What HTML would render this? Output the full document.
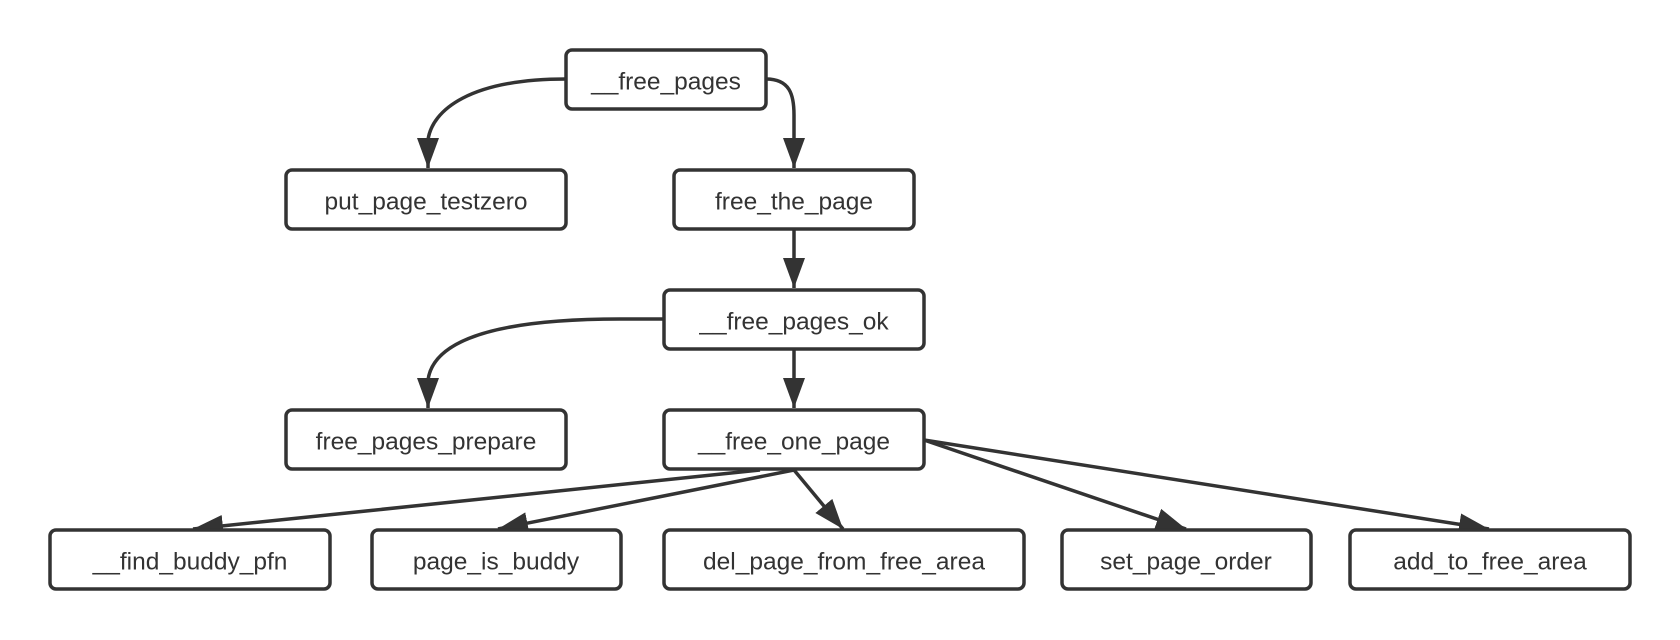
<!DOCTYPE html>
<html><head><meta charset="utf-8"><style>
html,body{margin:0;padding:0;background:#fff;}
svg{display:block;}
text{font-family:"Liberation Sans","Noto Sans CJK SC",sans-serif;font-size:24.5px;fill:#333;text-anchor:middle;dominant-baseline:central;}
rect{fill:#fff;stroke:#333;stroke-width:3.5;}
path.e{fill:none;stroke:#333;stroke-width:3.5;}
</style></head><body>
<svg width="1680" height="640" viewBox="0 0 1680 640" xmlns="http://www.w3.org/2000/svg">
<defs>
<marker id="a" markerUnits="userSpaceOnUse" markerWidth="32" markerHeight="24" refX="30" refY="12" orient="auto">
<path d="M0,1 L30,12 L0,23 Z" fill="#333"/>
</marker>
</defs>
<path class="e" d="M566,79 C470,79 432,110 428,140 L428,168" marker-end="url(#a)"/>
<path class="e" d="M766,79 C790,79 794,95 794,115 L794,168" marker-end="url(#a)"/>
<path class="e" d="M794,229 L794,288" marker-end="url(#a)"/>
<path class="e" d="M664,319 L620,319 C470,319 432,350 428,380 L428,408" marker-end="url(#a)"/>
<path class="e" d="M794,349 L794,408" marker-end="url(#a)"/>
<path class="e" d="M760,470 L193,529" marker-end="url(#a)"/>
<path class="e" d="M794,470 L498,529" marker-end="url(#a)"/>
<path class="e" d="M794,470 L843,529" marker-end="url(#a)"/>
<path class="e" d="M924,440 L1186,529" marker-end="url(#a)"/>
<path class="e" d="M924,440 L1489,529" marker-end="url(#a)"/>
<rect x="566" y="50" width="200" height="59" rx="6"/><text x="666" y="82">__free_pages</text>
<rect x="286" y="170" width="280" height="59" rx="6"/><text x="426" y="202">put_page_testzero</text>
<rect x="674" y="170" width="240" height="59" rx="6"/><text x="794" y="202">free_the_page</text>
<rect x="664" y="290" width="260" height="59" rx="6"/><text x="794" y="322">__free_pages_ok</text>
<rect x="286" y="410" width="280" height="59" rx="6"/><text x="426" y="442">free_pages_prepare</text>
<rect x="664" y="410" width="260" height="59" rx="6"/><text x="794" y="442">__free_one_page</text>
<rect x="50" y="530" width="280" height="59" rx="6"/><text x="190" y="562">__find_buddy_pfn</text>
<rect x="372" y="530" width="249" height="59" rx="6"/><text x="496" y="562">page_is_buddy</text>
<rect x="664" y="530" width="360" height="59" rx="6"/><text x="844" y="562">del_page_from_free_area</text>
<rect x="1062" y="530" width="249" height="59" rx="6"/><text x="1186" y="562">set_page_order</text>
<rect x="1350" y="530" width="280" height="59" rx="6"/><text x="1490" y="562">add_to_free_area</text>
</svg>
</body></html>
